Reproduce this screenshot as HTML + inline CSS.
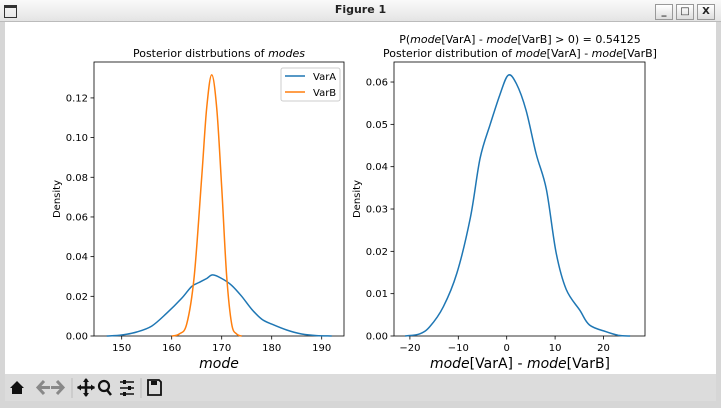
<!DOCTYPE html>
<html><head><meta charset="utf-8"><style>
html,body{margin:0;padding:0;width:721px;height:408px;overflow:hidden;background:#cfcfcf;font-family:"DejaVu Sans","Liberation Sans",sans-serif}
#win{position:absolute;left:0;top:0;width:721px;height:408px;background:#d6d6d6}
#title{position:absolute;left:0;top:0;width:721px;height:21px;background:linear-gradient(#fafafa,#e4e4e4);border-bottom:1px solid #bbb}
#title .t{position:absolute;left:0;width:721px;top:3px;text-align:center;font-size:11px;font-weight:bold;color:#222}
.btn{position:absolute;top:4px;width:16px;height:14px;border:1px solid #999;background:linear-gradient(#fff,#ddd);font-size:10px;font-weight:bold;text-align:center;line-height:14px;color:#222}
#fig{position:absolute;left:5px;top:22px;width:711px;height:352px;background:#fff}
#tb{position:absolute;left:5px;top:374px;width:711px;height:27px;background:#dcdcdc}
svg text{font-family:"DejaVu Sans","Liberation Sans",sans-serif}
</style></head><body>
<div id="win">
<div id="title"><div style="position:absolute;left:4px;top:5px;width:11px;height:9px;border:1px solid #333;border-top-width:3px"></div><div class="t">Figure 1</div>
<div class="btn" style="left:655px">_</div><div class="btn" style="left:676px">□</div><div class="btn" style="left:697px">X</div></div>
<div id="fig"></div>
<div id="tb"></div>
<svg width="721" height="408" style="position:absolute;left:0;top:0">
<g font-size="10" fill="#000">
<text x="219" y="57" text-anchor="middle" font-size="11">Posterior distrbutions of <tspan font-style="italic">modes</tspan></text>
<text x="520" y="43" text-anchor="middle" font-size="11">P(<tspan font-style="italic">mode</tspan>[VarA] - <tspan font-style="italic">mode</tspan>[VarB] &gt; 0) = 0.54125</text>
<text x="520" y="57" text-anchor="middle" font-size="11">Posterior distribution of <tspan font-style="italic">mode</tspan>[VarA] - <tspan font-style="italic">mode</tspan>[VarB]</text>
</g>
<g id="ax1"></g><g id="ax2"></g>
<rect x="94" y="62" width="250" height="274" fill="none" stroke="#000" stroke-width="0.8"/>
<rect x="394" y="62" width="251" height="274" fill="none" stroke="#000" stroke-width="0.8"/>
<path id="pA" fill="none" stroke="#1f77b4" stroke-width="1.5"/>
<path id="pB" fill="none" stroke="#ff7f0e" stroke-width="1.5"/>
<path id="pC" fill="none" stroke="#1f77b4" stroke-width="1.5"/>
<g>
<rect x="281" y="68" width="59" height="33" fill="#fff" stroke="#ccc" rx="2"/>
<line x1="285" y1="76" x2="305" y2="76" stroke="#1f77b4" stroke-width="1.5"/>
<line x1="285" y1="92" x2="305" y2="92" stroke="#ff7f0e" stroke-width="1.5"/>
<text x="313" y="80" font-size="10">VarA</text>
<text x="313" y="96" font-size="10">VarB</text>
</g>
<text x="219" y="368" text-anchor="middle" font-size="14" font-style="italic">mode</text>
<text x="520" y="368" text-anchor="middle" font-size="14"><tspan font-style="italic">mode</tspan>[VarA] - <tspan font-style="italic">mode</tspan>[VarB]</text>
<text transform="translate(60,199) rotate(-90)" text-anchor="middle" font-size="10">Density</text>
<text transform="translate(360,199) rotate(-90)" text-anchor="middle" font-size="10">Density</text>
<g>
<path d="M10 388 L17 381 L24 388 L22 388 L22 394 L12 394 L12 388Z" fill="#111"/>
<path d="M44 381 L38 387.5 L44 394 M38 387.5 L50 387.5" stroke="#888" stroke-width="3" fill="none"/>
<path d="M57 381 L63 387.5 L57 394 M51 387.5 L63 387.5" stroke="#888" stroke-width="3" fill="none"/>
<line x1="72" y1="378" x2="72" y2="398" stroke="#bbb"/>
<path d="M86 379 V396 M77.5 387.5 H94.5" stroke="#111" stroke-width="2.5"/>
<path d="M86 378 l-3 4 h6z M86 397 l-3 -4 h6z M77 387.5 l4 -3 v6z M95 387.5 l-4 -3 v6z" fill="#111"/>
<circle cx="104" cy="386" r="5" fill="none" stroke="#111" stroke-width="2.2"/>
<line x1="107" y1="390" x2="111" y2="395" stroke="#111" stroke-width="2.5"/>
<path d="M120 382 H134 M120 388 H134 M120 394 H134" stroke="#111" stroke-width="1.6"/>
<rect x="123" y="380" width="3" height="4" fill="#111"/><rect x="128" y="386" width="3" height="4" fill="#111"/><rect x="123" y="392" width="3" height="4" fill="#111"/>
<line x1="141" y1="378" x2="141" y2="398" stroke="#bbb"/>
<path d="M148 380 H159 L161 382 V395 H148Z" fill="none" stroke="#111" stroke-width="1.8"/>
<rect x="151" y="381" width="6" height="4" fill="#111"/>
</g>
</svg>
</div>
<script>
function cr(pts){let d="M"+pts[0][0].toFixed(1)+" "+pts[0][1].toFixed(1);
for(let i=0;i<pts.length-1;i++){const p0=pts[Math.max(0,i-1)],p1=pts[i],p2=pts[i+1],p3=pts[Math.min(pts.length-1,i+2)];
const c1=[p1[0]+(p2[0]-p0[0])/6,p1[1]+(p2[1]-p0[1])/6],c2=[p2[0]-(p3[0]-p1[0])/6,p2[1]-(p3[1]-p1[1])/6];
d+=" C"+c1.map(v=>v.toFixed(1)).join(" ")+" "+c2.map(v=>v.toFixed(1)).join(" ")+" "+p2[0].toFixed(1)+" "+p2[1].toFixed(1);}return d;}
const L=x=>121.7+(x-150)*5, Ly=y=>336-y*1984;
const R=x=>506.7+x*4.84, Ry=y=>336-y*4233;
const A=[[147,0],[150,0.0005],[153,0.002],[156,0.005],[159,0.0115],[162,0.019],[164,0.025],[165.5,0.027],[167,0.029],[168.2,0.0308],[170,0.029],[172,0.0255],[174,0.02],[176,0.0135],[178,0.0085],[180,0.006],[183,0.003],[186,0.001],[189,0.0002],[192,0]];
const B=[[160,0],[161.5,0.001],[163,0.006],[164.5,0.03],[166,0.08],[167,0.115],[168,0.1316],[169,0.115],[170,0.075],[171,0.03],[172,0.006],[173,0.001],[174,0]];
const C=[[-21,0],[-18,0.0005],[-15.9,0.0022],[-13.1,0.0069],[-10.3,0.0148],[-7.5,0.028],[-5.5,0.042],[-3.4,0.05],[-1.4,0.057],[0.3,0.0616],[2,0.0596],[4,0.0533],[6.1,0.043],[8.2,0.0346],[10.2,0.0197],[12.3,0.011],[15.1,0.0061],[17.1,0.0026],[20.6,0.001],[23,0.0002],[25.5,0]];
document.getElementById("pA").setAttribute("d",cr(A.map(p=>[L(p[0]),Ly(p[1])])));
document.getElementById("pB").setAttribute("d",cr(B.map(p=>[L(p[0]),Ly(p[1])])));
document.getElementById("pC").setAttribute("d",cr(C.map(p=>[R(p[0]),Ry(p[1])])));
const ns="http://www.w3.org/2000/svg";
function el(g,t,a,txt){const e=document.createElementNS(ns,t);for(const k in a)e.setAttribute(k,a[k]);if(txt!==undefined)e.textContent=txt;g.appendChild(e);}
const g1=document.getElementById("ax1"),g2=document.getElementById("ax2");
[150,160,170,180,190].forEach(v=>{const x=L(v);el(g1,"line",{x1:x,x2:x,y1:336,y2:339.5,stroke:"#000","stroke-width":0.8});el(g1,"text",{x:x,y:351,"text-anchor":"middle","font-size":10},v);});
[0,0.02,0.04,0.06,0.08,0.10,0.12].forEach(v=>{const y=Ly(v);el(g1,"line",{x1:90.5,x2:94,y1:y,y2:y,stroke:"#000","stroke-width":0.8});el(g1,"text",{x:88,y:y+3.5,"text-anchor":"end","font-size":10},v.toFixed(2));});
[-20,-10,0,10,20].forEach(v=>{const x=R(v);el(g2,"line",{x1:x,x2:x,y1:336,y2:339.5,stroke:"#000","stroke-width":0.8});el(g2,"text",{x:x,y:351,"text-anchor":"middle","font-size":10},v<0?"\u2212"+(-v):v);});
[0,0.01,0.02,0.03,0.04,0.05,0.06].forEach(v=>{const y=Ry(v);el(g2,"line",{x1:390.5,x2:394,y1:y,y2:y,stroke:"#000","stroke-width":0.8});el(g2,"text",{x:388,y:y+3.5,"text-anchor":"end","font-size":10},v.toFixed(2));});
</script>
</body></html>
